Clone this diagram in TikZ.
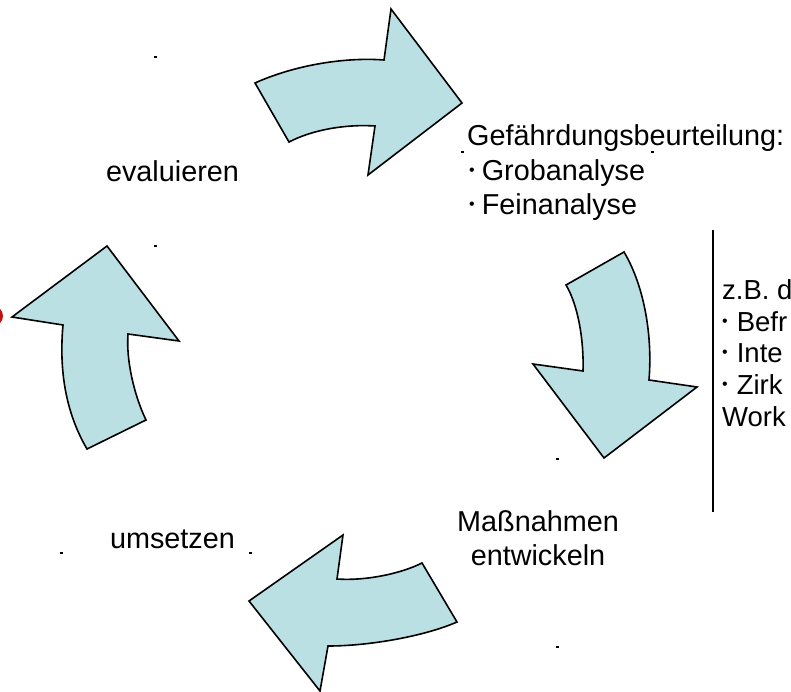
\documentclass[tikz,border=0pt]{standalone}
\usepackage{fontspec}
\setmainfont{Liberation Sans}
\definecolor{arrowfill}{RGB}{187,224,227}
\definecolor{markred}{RGB}{196,16,16}
\tikzset{
  arrowshape/.style={draw=black, line width=1.6pt, fill=arrowfill, line join=miter},
  maintext/.style={inner sep=0pt, font=\fontsize{28.8}{34.5}\selectfont},
  sidetext/.style={inner sep=0pt, anchor=base west, font=\fontsize{27.5}{31.7}\selectfont},
  speck/.style={fill=black, draw=none}
}
\newcommand{\mybul}{{\fontsize{16}{16}\selectfont\raisebox{5pt}{•}}}
\begin{document}
\begin{tikzpicture}[x=1pt,y=-1pt]
\useasboundingbox (0,0) rectangle (791,692);
\clip (0,0) rectangle (791,692);
\fill[white] (0,0) rectangle (791,692);

% red mark at left edge
\fill[markred] (-7,316) circle (10);

% top arrow
\draw[arrowshape] (255,83) .. controls (295,65) and (345,57) .. (384,60) -- (391,9) -- (462,103) -- (368,175) -- (375,126) .. controls (345,124) and (312,130) .. (289,142) -- cycle;
% right arrow
\draw[arrowshape] (566,285) -- (624,252) .. controls (642,282) and (653,330) .. (649,380) -- (697,387) -- (604,458) -- (533,364) -- (583,371) .. controls (584,340) and (578,305) .. (566,285) -- cycle;
% bottom arrow
\draw[arrowshape] (422,563) -- (457,622) .. controls (425,636) and (370,646) .. (328,646) -- (320,691) -- (249,601) -- (343,535) -- (337,579) .. controls (365,581) and (400,574) .. (422,563) -- cycle;
% left arrow
\draw[arrowshape] (107,246) -- (179,341) -- (128,334) .. controls (126,360) and (134,395) .. (146,420) -- (87,449) .. controls (70,420) and (58,380) .. (63,325) -- (12,317) -- cycle;

% texts
\node[maintext, anchor=base] (eval) at (172.5,182) {evaluieren};
\node[maintext, anchor=base west] (gef) at (467,146) {Gefährdungsbeurteilung:};
\node[maintext, anchor=base west] (grob) at (469,180.5) {\mybul\hspace{7pt}Grobanalyse};
\node[maintext, anchor=base west] (fein) at (469,215) {\mybul\hspace{7pt}Feinanalyse};
\node[maintext, anchor=base] (mass) at (538,531) {Maßnahmen};
\node[maintext, anchor=base] (entw) at (538,565) {entwickeln};
\node[maintext, anchor=base] (ums) at (172.5,548) {umsetzen};

% side text (cut off at the picture's right edge)
\node[sidetext] (side) at (722,299.5) {\vtop{\baselineskip=31.7pt\lineskiplimit=-50pt
  \hbox{z.B. d}
  \hbox{\mybul\hspace{9pt}Befr}
  \hbox{\mybul\hspace{9pt}Inte}
  \hbox{\mybul\hspace{9pt}Zirk}
  \hbox{Work}}};

% vertical divider line
\coordinate (ltop) at (713,230);
\coordinate (lbot) at (713,512);
\draw[line width=1.1pt] (ltop) -- (lbot);

% small specks
\foreach \px/\py in {155/57, 155/246, 462/152, 652/152, 557/459, 557/647, 61/553, 250/553}
  \fill[speck] (\px-1.5,\py-0.8) rectangle (\px+1.5,\py+0.8);
\end{tikzpicture}
\end{document}
